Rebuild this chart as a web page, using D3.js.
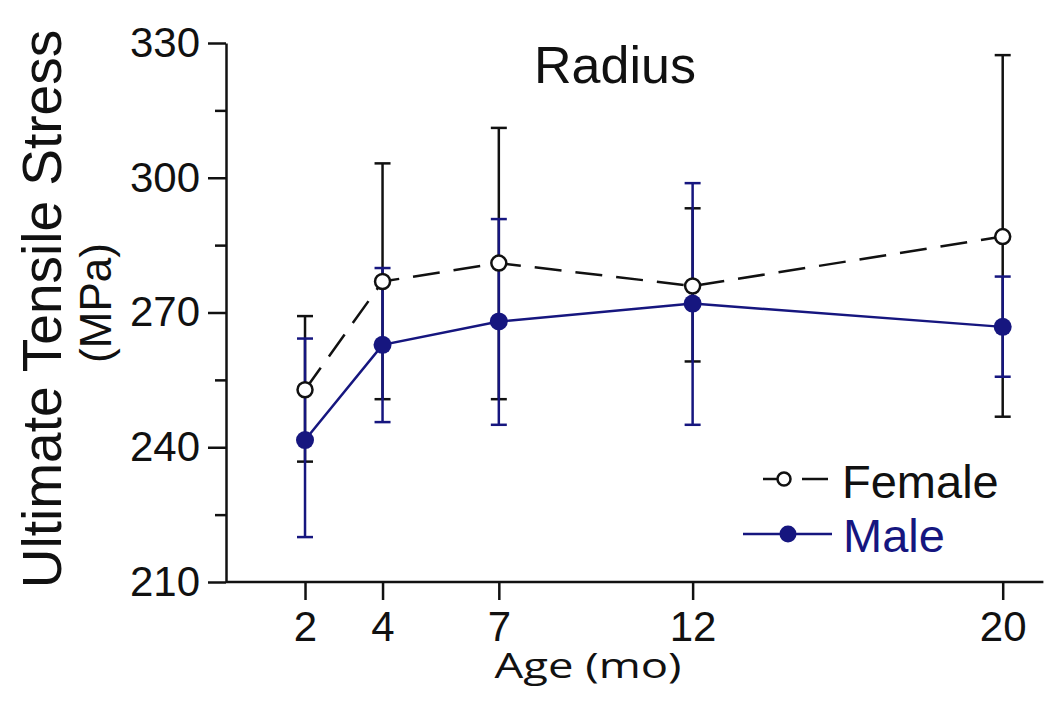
<!DOCTYPE html>
<html>
<head>
<meta charset="utf-8">
<script src="https://cdn.jsdelivr.net/npm/d3@7"></script>
<style>
  html, body { margin: 0; padding: 0; background: #ffffff; }
  svg { display: block; }
  text { font-family: "Liberation Sans", Arial, sans-serif; }
</style>
</head>
<body>
<svg id="chart" width="1050" height="701"></svg>
<script>
// ---- data ----
const ages = [2, 4, 7, 12, 20];
const femaleMean = [252.8, 276.9, 281.0, 275.9, 286.9];
const femaleUpper = [269.2, 303.2, 311.1, 293.2, 327.3];
const femaleLower = [236.8, 250.7, 250.7, 259.1, 246.8];
const maleMean = [241.6, 262.8, 268.0, 272.0, 266.8];
const maleUpper = [264.2, 279.9, 290.8, 298.8, 278.0];
const maleLower = [220.0, 245.6, 245.0, 245.0, 255.7];
const yMajorTicks = [210, 240, 270, 300, 330];
const yMinorTicks = [225, 255, 285, 315];
const xTicks = [2, 4, 7, 12, 20];
const seriesNames = ["Female", "Male"];

const navy = "#16167f";
const svg = d3.select("#chart");

const x = d3.scaleLinear().domain([0, 21.05]).range([227.5, 1043.4]);
const y = d3.scaleLinear().domain([210, 330]).range([582, 43]);
const axisX0 = 226;

// ---- axes ----
const yAxis = svg.append("g").attr("transform", `translate(${axisX0},0)`)
  .call(d3.axisLeft(y).tickValues(yMajorTicks).tickSize(18).tickSizeOuter(0).tickPadding(8).tickFormat(d3.format("d")));
const yMinor = svg.append("g").attr("transform", `translate(${axisX0},0)`)
  .call(d3.axisLeft(y).tickValues(yMinorTicks).tickSize(11).tickSizeOuter(0).tickFormat(""));
yMinor.select(".domain").remove();

const xAxis = svg.append("g").attr("transform", `translate(0,${y(210)})`)
  .call(d3.axisBottom(x).tickValues(xTicks).tickSize(18).tickSizeOuter(0).tickFormat(d3.format("d")));
xAxis.select(".domain").attr("d", `M${axisX0},0H${x.range()[1]}`);

[yAxis, yMinor, xAxis].forEach(g => {
  g.selectAll("path, line").attr("stroke", "#111").attr("stroke-width", 2.5);
});
yAxis.selectAll("text").attr("font-size", 42).attr("fill", "#111")
  .style("font-family", "'Liberation Sans', Arial, sans-serif");
xAxis.selectAll("text").attr("font-size", 42).attr("fill", "#111")
  .attr("y", 59).attr("dy", 0)
  .style("font-family", "'Liberation Sans', Arial, sans-serif");

// ---- titles ----
svg.append("text").attr("x", 615).attr("y", 83).attr("text-anchor", "middle")
  .attr("font-size", 52).attr("fill", "#111").text("Radius");

svg.append("text").attr("x", 588).attr("y", 678).attr("text-anchor", "middle")
  .attr("font-size", 34).attr("fill", "#111")
  .attr("textLength", 187).attr("lengthAdjust", "spacingAndGlyphs")
  .style("font-family", "'Open Sans', sans-serif")
  .text("Age (mo)");

svg.append("text").attr("transform", "translate(61,309) rotate(-90)")
  .attr("text-anchor", "middle").attr("font-size", 55).attr("fill", "#111")
  .text("Ultimate Tensile Stress");
svg.append("text").attr("transform", "translate(111,303) rotate(-90)")
  .attr("text-anchor", "middle").attr("font-size", 44).attr("fill", "#111")
  .text("(MPa)");

// ---- data marks ----
const female = ages.map((a, i) => ({ a, m: femaleMean[i], lo: femaleLower[i], hi: femaleUpper[i] }));
const male = ages.map((a, i) => ({ a, m: maleMean[i], lo: maleLower[i], hi: maleUpper[i] }));
const capW = 8;

function errorBars(data, color, cls) {
  const g = svg.append("g").attr("class", cls);
  g.selectAll("line.v").data(data).join("line").attr("class", "v")
    .attr("x1", d => x(d.a)).attr("x2", d => x(d.a))
    .attr("y1", d => y(d.lo)).attr("y2", d => y(d.hi))
    .attr("stroke", color).attr("stroke-width", 2.5);
  g.selectAll("line.t").data(data).join("line").attr("class", "t")
    .attr("x1", d => x(d.a) - capW).attr("x2", d => x(d.a) + capW)
    .attr("y1", d => y(d.hi)).attr("y2", d => y(d.hi))
    .attr("stroke", color).attr("stroke-width", 2.5);
  g.selectAll("line.b").data(data).join("line").attr("class", "b")
    .attr("x1", d => x(d.a) - capW).attr("x2", d => x(d.a) + capW)
    .attr("y1", d => y(d.lo)).attr("y2", d => y(d.lo))
    .attr("stroke", color).attr("stroke-width", 2.5);
}
errorBars(female, "#111", "err-female");
errorBars(male, navy, "err-male");

const line = d3.line().x(d => x(d.a)).y(d => y(d.m));
svg.append("path").datum(female).attr("d", line)
  .attr("fill", "none").attr("stroke", "#111").attr("stroke-width", 2.5)
  .attr("stroke-dasharray", "27,14");
svg.append("path").datum(male).attr("d", line)
  .attr("fill", "none").attr("stroke", navy).attr("stroke-width", 2.5);

svg.append("g").selectAll("circle").data(female).join("circle")
  .attr("cx", d => x(d.a)).attr("cy", d => y(d.m)).attr("r", 7.5)
  .attr("fill", "#fff").attr("stroke", "#111").attr("stroke-width", 2.5);
svg.append("g").selectAll("circle").data(male).join("circle")
  .attr("cx", d => x(d.a)).attr("cy", d => y(d.m)).attr("r", 9)
  .attr("fill", navy);

// ---- legend ----
const lg = svg.append("g");
lg.append("line").attr("x1", 763).attr("x2", 777).attr("y1", 479).attr("y2", 479)
  .attr("stroke", "#111").attr("stroke-width", 2.5);
lg.append("line").attr("x1", 802).attr("x2", 828).attr("y1", 479).attr("y2", 479)
  .attr("stroke", "#111").attr("stroke-width", 2.5);
lg.append("circle").attr("cx", 784).attr("cy", 479).attr("r", 6.5)
  .attr("fill", "#fff").attr("stroke", "#111").attr("stroke-width", 2.5);
lg.append("text").attr("x", 842).attr("y", 498).attr("font-size", 47)
  .attr("fill", "#111").text(seriesNames[0]);

lg.append("line").attr("x1", 743).attr("x2", 832).attr("y1", 534).attr("y2", 534)
  .attr("stroke", navy).attr("stroke-width", 2.5);
lg.append("circle").attr("cx", 788).attr("cy", 534).attr("r", 8.5).attr("fill", navy);
lg.append("text").attr("x", 843).attr("y", 552).attr("font-size", 47)
  .attr("fill", navy).text(seriesNames[1]);
</script>
</body>
</html>
